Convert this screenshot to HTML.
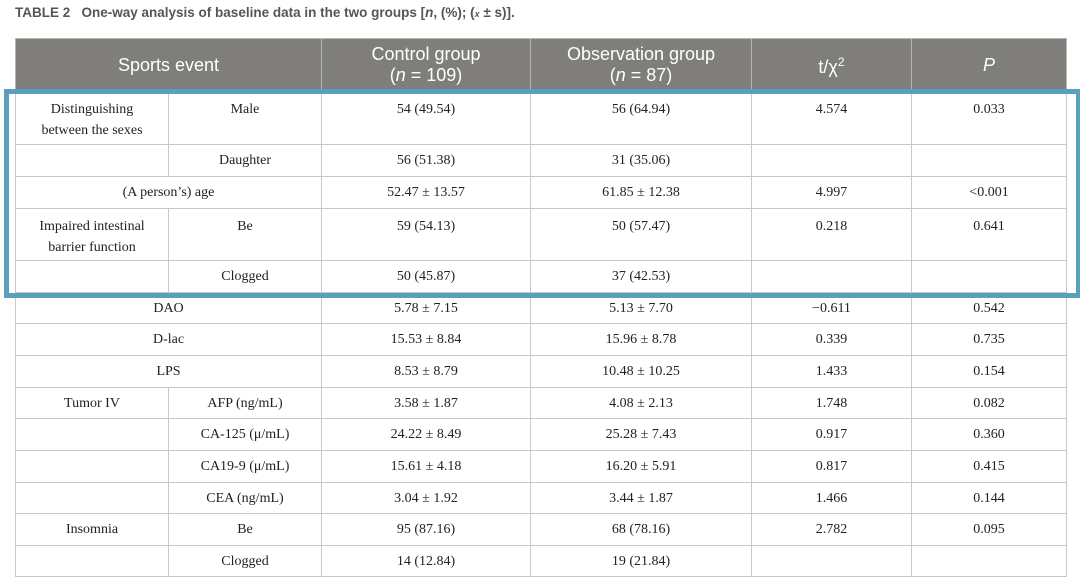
<!DOCTYPE html>
<html><head><meta charset="utf-8"><style>
body{margin:0;width:1080px;height:583px;background:#fff;position:relative;overflow:hidden;font-family:"Liberation Serif",serif}
.title{position:absolute;left:15px;top:5px;font-family:"Liberation Sans",sans-serif;font-size:13.5px;color:#555}
.title b{font-weight:bold}
table{position:absolute;left:15px;top:38px;border-collapse:collapse;table-layout:fixed;width:1051px}
td,th{border:1.5px solid #c8c8c8;text-align:center;padding:0;font-size:14px;color:#222;line-height:21px}
th{background:#807e7b;color:#fff;font-family:"Liberation Sans",sans-serif;font-weight:normal;font-size:18px;line-height:21px;height:52px;border-color:#b5b5b5}
td.t{vertical-align:top;padding-top:7px}
.box{position:absolute;left:4px;top:89px;width:1067px;height:199px;border:5px solid #5b9fbe}
</style></head><body>
<div class="title"><b>TABLE 2&nbsp;&nbsp; One-way analysis of baseline data in the two groups [<i>n</i>, (%); (<span style="font-size:9px"><i>x</i></span> ± s)].</b></div>
<table>
<colgroup><col style="width:153px"><col style="width:153px"><col style="width:209px"><col style="width:221px"><col style="width:160px"><col style="width:155px"></colgroup>
<tr><th colspan="2">Sports event</th><th>Control group<br>(<i>n</i> = 109)</th><th>Observation group<br>(<i>n</i> = 87)</th><th>t/χ<sup style="font-size:12px">2</sup></th><th><i>P</i></th></tr>
<tr style="height:53px"><td class="t">Distinguishing<br>between the sexes</td><td class="t">Male</td><td class="t">54 (49.54)</td><td class="t">56 (64.94)</td><td class="t">4.574</td><td class="t">0.033</td></tr>
<tr style="height:32px"><td></td><td>Daughter</td><td>56 (51.38)</td><td>31 (35.06)</td><td></td><td></td></tr>
<tr style="height:32px"><td colspan="2">(A person’s) age</td><td>52.47 ± 13.57</td><td>61.85 ± 12.38</td><td>4.997</td><td>&lt;0.001</td></tr>
<tr style="height:52px"><td class="t">Impaired intestinal<br>barrier function</td><td class="t">Be</td><td class="t">59 (54.13)</td><td class="t">50 (57.47)</td><td class="t">0.218</td><td class="t">0.641</td></tr>
<tr style="height:32px"><td></td><td>Clogged</td><td>50 (45.87)</td><td>37 (42.53)</td><td></td><td></td></tr>
<tr style="height:31px"><td colspan="2">DAO</td><td>5.78 ± 7.15</td><td>5.13 ± 7.70</td><td>−0.611</td><td>0.542</td></tr>
<tr style="height:32px"><td colspan="2">D-lac</td><td>15.53 ± 8.84</td><td>15.96 ± 8.78</td><td>0.339</td><td>0.735</td></tr>
<tr style="height:32px"><td colspan="2">LPS</td><td>8.53 ± 8.79</td><td>10.48 ± 10.25</td><td>1.433</td><td>0.154</td></tr>
<tr style="height:31px"><td>Tumor IV</td><td>AFP (ng/mL)</td><td>3.58 ± 1.87</td><td>4.08 ± 2.13</td><td>1.748</td><td>0.082</td></tr>
<tr style="height:32px"><td></td><td>CA-125 (μ/mL)</td><td>24.22 ± 8.49</td><td>25.28 ± 7.43</td><td>0.917</td><td>0.360</td></tr>
<tr style="height:32px"><td></td><td>CA19-9 (μ/mL)</td><td>15.61 ± 4.18</td><td>16.20 ± 5.91</td><td>0.817</td><td>0.415</td></tr>
<tr style="height:31px"><td></td><td>CEA (ng/mL)</td><td>3.04 ± 1.92</td><td>3.44 ± 1.87</td><td>1.466</td><td>0.144</td></tr>
<tr style="height:32px"><td>Insomnia</td><td>Be</td><td>95 (87.16)</td><td>68 (78.16)</td><td>2.782</td><td>0.095</td></tr>
<tr style="height:31px"><td></td><td>Clogged</td><td>14 (12.84)</td><td>19 (21.84)</td><td></td><td></td></tr>
</table>
<div class="box"></div>
</body></html>
